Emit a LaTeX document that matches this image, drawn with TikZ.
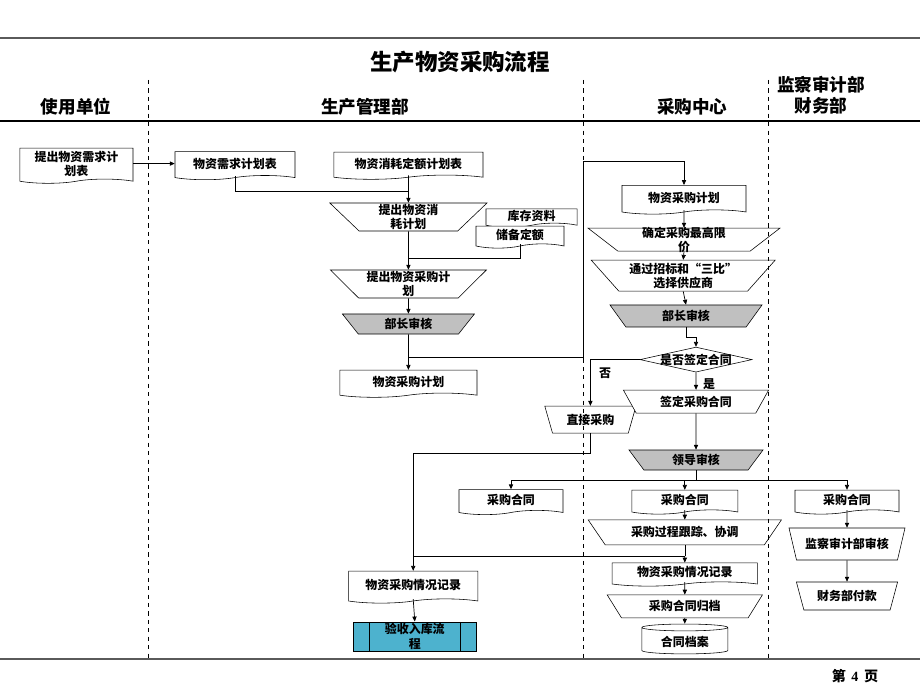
\documentclass[tikz,border=0pt]{standalone}
\usepackage{fontspec}
\usepackage{xcolor}
\usepackage{tikz}
\usetikzlibrary{shapes.geometric,shapes.symbols,arrows.meta}
\setmainfont{Liberation Serif}
\newfontfamily\cjk{Noto Sans CJK SC}
\definecolor{boxgray}{RGB}{192,192,192}
\definecolor{boxteal}{RGB}{77,178,206}
\definecolor{rulegray}{RGB}{90,90,90}

\tikzset{
  doc/.style={tape, draw, fill=white, tape bend top=none, tape bend bottom=in and out, tape bend height=3pt, inner sep=1pt},
  trap/.style={trapezium, shape border rotate=180, trapezium stretches body, draw, fill=white, inner sep=0pt},
  flow/.style={-{Triangle[length=3.5pt,width=3pt]}, line width=0.5pt}
}

\begin{document}
\begin{tikzpicture}[every node/.style={font=\cjk\bfseries\fontsize{8.5}{10}\selectfont, align=center}]
\useasboundingbox (0,0) rectangle (23,17.25);

% titles
\node[font=\cjk\bfseries\fontsize{16}{18}\selectfont] (title) at (11.5,15.7) {生产物资采购流程};
\node[font=\cjk\bfseries\fontsize{12.5}{14}\selectfont] (laneA) at (1.9,14.575) {使用单位};
\node[font=\cjk\bfseries\fontsize{12.5}{14}\selectfont] (laneB) at (9.125,14.575) {生产管理部};
\node[font=\cjk\bfseries\fontsize{12.5}{14}\selectfont] (laneC) at (17.31,14.575) {采购中心};
\node[font=\cjk\bfseries\fontsize{12.5}{15}\selectfont] (laneD) at (20.53,14.875) {监察审计部\\财务部};

% user
\node[doc, minimum width=2.83cm, minimum height=0.88cm] (need) at (1.91,13.16) {提出物资需求计\\划表};

% production management
\node[doc, minimum width=3cm, minimum height=0.7cm] (needlist) at (5.875,13.16) {物资需求计划表};
\node[doc, minimum width=3.73cm, minimum height=0.68cm] (quota) at (10.21,13.16) {物资消耗定额计划表};
\node[trap, trapezium angle=41, minimum width=3.93cm, minimum height=0.7cm] (consume) at (10.21,11.825) {提出物资消\\耗计划};
\node[doc, minimum width=2.28cm, minimum height=0.45cm] (stock) at (13.29,11.85) {库存资料};
\node[doc, minimum width=2.2cm, minimum height=0.55cm] (reserve) at (13.0,11.375) {储备定额};
\node[trap, trapezium angle=42, minimum width=3.9cm, minimum height=0.7cm] (plan) at (10.21,10.15) {提出物资采购计\\划};
\node[trap, trapezium angle=36, fill=boxgray, minimum width=3.3cm, minimum height=0.5cm] (check) at (10.21,9.15) {部长审核};
\node[doc, minimum width=3.43cm, minimum height=0.68cm] (plantab) at (10.21,7.71) {物资采购计划};
\node[doc, minimum width=3.23cm, minimum height=0.8cm] (recA) at (10.33,2.625) {物资采购情况记录};
\node[draw, fill=boxteal, minimum width=3.08cm, minimum height=0.73cm, inner sep=0pt,
  path picture={
    \draw ([xshift=0.4cm]path picture bounding box.north west) -- ([xshift=0.4cm]path picture bounding box.south west);
    \draw ([xshift=-0.4cm]path picture bounding box.north east) -- ([xshift=-0.4cm]path picture bounding box.south east);
  }] (store) at (10.37,1.34) {验收入库流\\程};
\node[doc, minimum width=2.6cm, minimum height=0.625cm] (ctA) at (12.775,4.75) {采购合同};

% purchasing centre
\node[doc, minimum width=3.1cm, minimum height=0.72cm] (buyplan) at (17.1,12.31) {物资采购计划};
\node[trap, trapezium angle=32, inner ysep=-2.5pt, minimum width=4.8cm, minimum height=0.575cm] (price) at (17.1,11.26) {确定采购最高限\\价};
\node[trap, trapezium angle=43, minimum width=4.6cm, minimum height=0.775cm] (bid) at (17.08,10.36) {通过招标和“三比”\\选择供应商};
\node[trap, trapezium angle=36, fill=boxgray, minimum width=3.8cm, minimum height=0.55cm] (check2) at (17.15,9.35) {部长审核};
\node[diamond, draw, fill=white, aspect=4.5, inner sep=-1pt, minimum width=2.8cm, minimum height=0.625cm] (ask) at (17.4,8.26) {是否签定合同};
\node (no) at (15.125,7.925) {否};
\node (yes) at (17.725,7.65) {是};
\node[trap, trapezium angle=56, minimum width=2.28cm, minimum height=0.675cm] (direct) at (14.76,6.76) {直接采购};
\node[trap, trapezium angle=42, minimum width=3.63cm, minimum height=0.575cm] (sign) at (17.4,7.21) {签定采购合同};
\node[trap, trapezium angle=38, fill=boxgray, minimum width=3.35cm, minimum height=0.5cm] (lead) at (17.4,5.75) {领导审核};
\node[doc, minimum width=2.65cm, minimum height=0.6cm] (ctB) at (17.12,4.75) {采购合同};
\node[trap, trapezium angle=34, minimum width=4.83cm, minimum height=0.625cm] (track) at (17.12,3.94) {采购过程跟踪、协调};
\node[doc, minimum width=3.63cm, minimum height=0.58cm] (recB) at (17.12,2.94) {物资采购情况记录};
\node[trap, trapezium angle=39, minimum width=3.88cm, minimum height=0.575cm] (archive) at (17.12,2.09) {采购合同归档};
\node[cylinder, shape border rotate=90, aspect=0.12, draw, fill=white, minimum width=2.15cm, minimum height=0.675cm] (files) at (17.12,1.21) {合同档案};

% audit and finance
\node[doc, minimum width=2.6cm, minimum height=0.6cm] (ctC) at (21.175,4.75) {采购合同};
\node[trap, trapezium angle=57, minimum width=2.9cm, minimum height=0.8cm] (audit) at (21.175,3.65) {监察审计部审核};
\node[trap, trapezium angle=57, minimum width=2.53cm, minimum height=0.7cm] (pay) at (21.175,2.35) {财务部付款};

% connectors
\coordinate (j1) at (10.21,12.475);
\coordinate (j2) at (10.21,10.8);
\coordinate (j3) at (10.21,8.325);
\coordinate (k1) at (14.575,13.225);
\draw[flow] (need.east) -- (needlist.west);
\draw (needlist.south) |- (j1);
\draw[flow] (quota.south) -- (consume.north);
\draw (reserve.south) |- (j2);
\draw[flow] (consume.south) -- (plan.north);
\draw[flow] (plan.south) -- (check.north);
\draw[flow] (check.south) -- (plantab.north);
\draw[flow] (j3) -| (k1) -| (buyplan.north);
\draw[flow] (buyplan.south) -- (price.north);
\draw[flow] (price.south) -- (bid.north);
\draw[flow] (bid.south) -- (check2.north);
\draw[flow] (check2.south) -- ++(0,-0.25) -| (ask.north);
\draw[flow] (ask.west) -| (direct.north);
\draw[flow] (ask.south) -- (sign.north);
\draw[flow] (sign.south) -- (lead.north);
\draw[flow] (direct.south) -- ++(0,-0.5) -| (recA.north);
\draw (lead.south) -- ++(0,-0.25) coordinate (bus);
\draw[flow] (bus) -| (ctA.north);
\draw[flow] (bus) -| (ctB.north);
\draw[flow] (bus) -| (ctC.north);
\draw[flow] (ctB.south) -- (track.north);
\draw (track.south) -- ++(0,-0.275) coordinate (c3);
\draw (c3) -- (c3 -| recA.north);
\draw[flow] (c3) -- (recB.north);
\draw[flow] (recA.south) -- (store.north);
\draw[flow] (recB.south) -- (archive.north);
\draw[flow] (archive.south) -- (files.north);
\draw[flow] (ctC.south) -- (audit.north);
\draw[flow] (audit.south) -- (pay.north);

% frame and lanes
\draw[line width=1.2pt, rulegray] (0,16.3) -- (23,16.3);
\draw[line width=0.9pt] (0,14.225) -- (23,14.225);
\draw[line width=1.2pt, rulegray] (0,0.775) -- (23,0.775);
\foreach \x in {3.7,14.575,19.2}
  \draw[dashed, line width=0.5pt] (\x,15.25) -- (\x,0.775);

\node[font=\cjk\bfseries\fontsize{10}{12}\selectfont] (page) at (21.375,0.35) {第\hspace{4pt}{\rmfamily 4}\hspace{4pt}页};
\end{tikzpicture}
\end{document}
